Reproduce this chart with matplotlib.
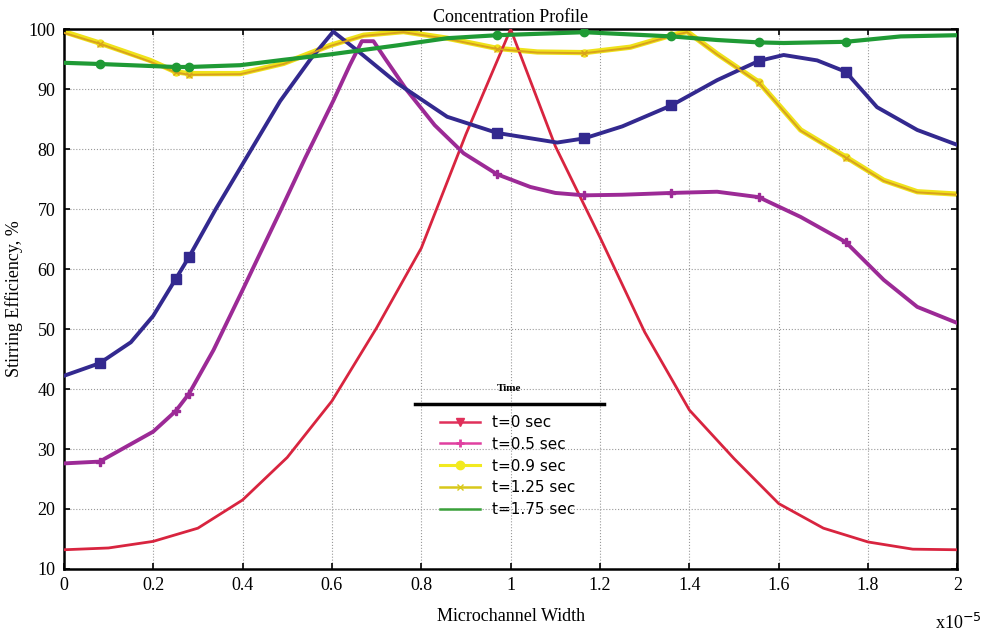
import matplotlib
matplotlib.use("Agg")
import matplotlib.pyplot as plt
from matplotlib.lines import Line2D
import numpy as np

# x in units of 1e-5 m, y = stirring efficiency (%)
marker_x = [0.08, 0.25, 0.28, 0.97, 1.165, 1.36, 1.555, 1.75]

x_t0 = [0, 0.1, 0.2, 0.3, 0.4, 0.5, 0.6, 0.7, 0.8, 0.9, 1.0, 1.1, 1.2, 1.3, 1.4, 1.5, 1.6, 1.7, 1.8, 1.9, 2.0]
y_t0 = [13.2, 13.5, 14.6, 16.8, 21.5, 28.6, 38.0, 50.2, 63.5, 82.5, 100, 80.5, 65.3, 49.5, 36.5, 28.4, 20.9, 16.8, 14.5, 13.3, 13.2]

x_t05 = [0, 0.08, 0.14, 0.2, 0.25, 0.28, 0.335, 0.4, 0.484, 0.54, 0.604, 0.64, 0.667, 0.693, 0.72,
         0.768, 0.83, 0.895, 0.97, 1.044, 1.1, 1.165, 1.25, 1.36, 1.462, 1.555, 1.649, 1.75, 1.835, 1.91, 2.0]
y_t05 = [27.6, 27.9, 30.4, 32.9, 36.3, 39.2, 46.5, 56.5, 69.6, 78.5, 88.2, 94.0, 98.0, 98.0, 95.0,
         89.8, 84.0, 79.3, 75.8, 73.7, 72.7, 72.3, 72.4, 72.7, 72.9, 72.0, 68.7, 64.5, 58.2, 53.7, 51.0]

# blue curve (not listed in legend)
x_blue = [0, 0.08, 0.15, 0.2, 0.25, 0.28, 0.34, 0.42, 0.484, 0.552, 0.603, 0.656, 0.746, 0.858, 0.97,
          1.104, 1.165, 1.25, 1.36, 1.462, 1.555, 1.611, 1.686, 1.75, 1.82, 1.91, 2.0]
y_blue = [42.2, 44.3, 47.8, 52.2, 58.3, 62.0, 70.0, 80.0, 88.0, 95.0, 99.6, 96.5, 91.0, 85.4, 82.7,
          81.1, 81.8, 83.8, 87.3, 91.5, 94.7, 95.7, 94.8, 92.9, 87.0, 83.2, 80.7]

x_t09 = [0, 0.08, 0.193, 0.25, 0.28, 0.395, 0.492, 0.596, 0.671, 0.76, 0.858, 0.97, 1.06, 1.165,
         1.268, 1.36, 1.395, 1.462, 1.555, 1.649, 1.75, 1.835, 1.91, 2.0]
y_t09 = [99.6, 97.7, 94.8, 92.9, 92.6, 92.6, 94.3, 97.3, 99.0, 99.6, 98.5, 96.8, 96.2, 96.1,
         97.0, 99.0, 99.6, 95.9, 91.2, 83.2, 78.7, 74.8, 72.9, 72.5]

x_t125 = [0, 0.08, 0.193, 0.25, 0.28, 0.395, 0.492, 0.596, 0.671, 0.76, 0.858, 0.97, 1.06, 1.165,
          1.268, 1.36, 1.395, 1.462, 1.555, 1.649, 1.75, 1.835, 1.91, 2.0]
y_t125 = [99.4, 97.6, 94.6, 92.8, 92.4, 92.5, 94.2, 97.2, 98.9, 99.5, 98.4, 96.7, 96.1, 96.0,
          96.9, 98.9, 99.5, 95.8, 91.1, 83.1, 78.6, 74.7, 72.8, 72.4]

x_t175 = [0, 0.08, 0.25, 0.28, 0.395, 0.492, 0.596, 0.746, 0.858, 0.97, 1.165, 1.36, 1.462, 1.555,
          1.611, 1.75, 1.873, 2.0]
y_t175 = [94.4, 94.2, 93.7, 93.7, 94.0, 94.9, 95.8, 97.3, 98.5, 99.0, 99.5, 98.8, 98.2, 97.8,
          97.7, 97.9, 98.8, 99.0]

legend_labels = ["t=0 sec", "t=0.5 sec", "t=0.9 sec", "t=1.25 sec", "t=1.75 sec"]

RED = "#d8243f"
MAG = "#9c2a96"
BLUE = "#33298f"
YEL = "#efe21a"
GOLD = "#d9a21c"
GREEN = "#1f9a35"


def marks(xs):
    return [i for i, v in enumerate(xs) if v in marker_x]


serif = "Liberation Serif"
fig = plt.figure(figsize=(9.82, 6.35), dpi=100)
ax = fig.add_axes([0.065, 0.104, 0.910, 0.850])

ax.plot(x_t0, y_t0, color=RED, lw=2.0, zorder=3)
ax.plot(x_t05, y_t05, color=MAG, lw=2.8, marker="P", ms=6, markevery=marks(x_t05), zorder=3)
ax.plot(x_blue, y_blue, color=BLUE, lw=2.8, marker="s", ms=6.5, markevery=marks(x_blue), zorder=3)
ax.plot(x_t09, y_t09, color=YEL, lw=3.8, marker="o", ms=5, markevery=marks(x_t09), zorder=2)
ax.plot(x_t125, y_t125, color=GOLD, lw=1.4, marker="x", ms=5, markevery=marks(x_t125), zorder=3)
ax.plot(x_t175, y_t175, color=GREEN, lw=3.0, marker="o", ms=6, markevery=marks(x_t175), zorder=4)

ax.set_xlim(0, 2)
ax.set_ylim(10, 100)
ax.set_xticks(np.arange(0, 2.01, 0.2))
ax.set_xticklabels(["0", "0.2", "0.4", "0.6", "0.8", "1", "1.2", "1.4", "1.6", "1.8", "2"])
ax.set_yticks(np.arange(10, 101, 10))
ax.grid(True, color="#999999", linestyle=":", linewidth=0.8)
ax.tick_params(direction="in", top=True, right=True, length=4, width=1.2, pad=6)
for lab in ax.get_xticklabels() + ax.get_yticklabels():
    lab.set_fontfamily(serif)
    lab.set_fontsize(13)
for sp in ax.spines.values():
    sp.set_linewidth(1.8)

ax.set_xlabel("Microchannel Width", fontfamily=serif, fontsize=13, labelpad=10)
ax.set_ylabel("Stirring Efficiency, %", fontfamily=serif, fontsize=13, labelpad=4)
ax.set_title("Concentration Profile", fontfamily=serif, fontsize=13, pad=5)
ax.text(0.975, -0.082, "x10$^{-5}$", transform=ax.transAxes, fontfamily=serif, fontsize=13,
        ha="left", va="top")

handles = [
    Line2D([], [], color="#e0305a", lw=1.8, marker="v", ms=6),
    Line2D([], [], color="#e040a0", lw=1.8, marker="+", ms=6, mew=2),
    Line2D([], [], color="#f2ea20", lw=2.2, marker="o", ms=6),
    Line2D([], [], color="#d8c81a", lw=1.8, marker="x", ms=5),
    Line2D([], [], color="#3aa03a", lw=1.8),
]
leg = ax.legend(handles, legend_labels, loc="upper center", bbox_to_anchor=(0.497, 0.311),
                frameon=False, fontsize=11, handlelength=2.6, labelspacing=0.45)
ax.text(0.498, 0.334, "Time", transform=ax.transAxes, fontfamily=serif, fontsize=8,
        fontweight="bold", ha="center", va="center")
ax.plot([0.393, 0.604], [0.306, 0.306], transform=ax.transAxes, color="black", lw=2.5,
        clip_on=False, zorder=5)

fig.savefig("out.png", dpi=100)
